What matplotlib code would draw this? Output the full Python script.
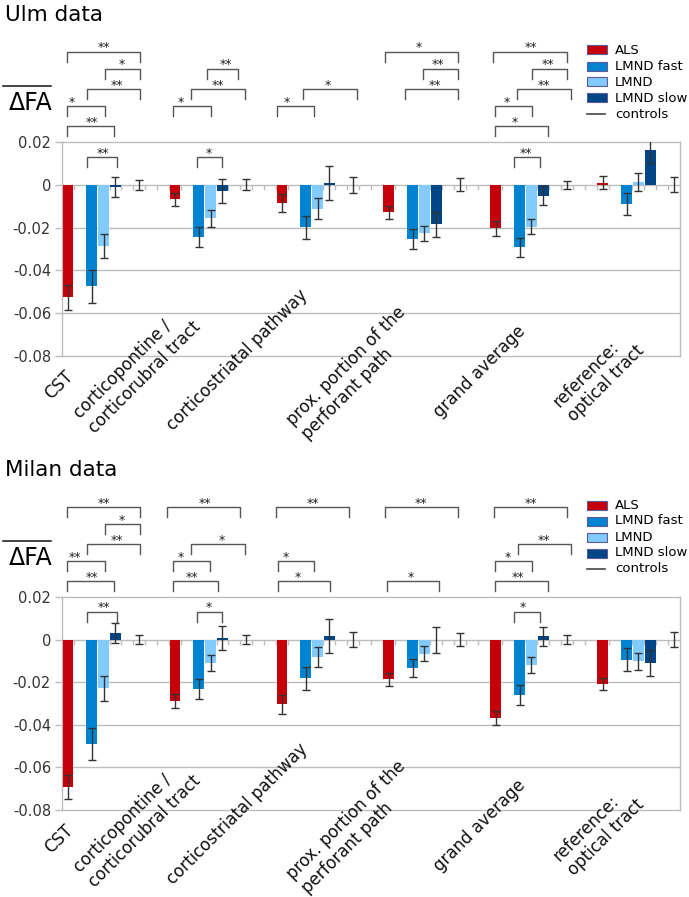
import numpy as np
import matplotlib.pyplot as plt
from matplotlib.lines import Line2D
from matplotlib.patches import Rectangle

plt.rcParams['font.family'] = 'DejaVu Sans'
plt.rcParams['axes.unicode_minus'] = False

# categories / series
regions = ['CST', 'corticopontine /\ncorticorubral tract', 'corticostriatal pathway',
           'prox. portion of the\nperforant path', 'grand average', 'reference:\noptical tract']
series = ['ALS', 'LMND fast', 'LMND', 'LMND slow']
colors = ['#c5000b', '#0084d1', '#83caff', '#004586']
yticks = [0.02, 0, -0.02, -0.04, -0.06, -0.08]
ytick_labels = ['0.02', '0', '-0.02', '-0.04', '-0.06', '-0.08']

# Ulm data
ulm_als = [-0.0526, -0.0067, -0.0086, -0.0128, -0.0203, 0.0010]
ulm_als_err = [0.0057, 0.0031, 0.0041, 0.0030, 0.0034, 0.0031]
ulm_fast = [-0.0475, -0.0245, -0.0198, -0.0253, -0.0292, -0.0089]
ulm_fast_err = [0.0076, 0.0047, 0.0054, 0.0047, 0.0045, 0.0053]
ulm_lmnd = [-0.0285, -0.0156, -0.0112, -0.0226, -0.0195, 0.0014]
ulm_lmnd_err = [0.0057, 0.0039, 0.0049, 0.0035, 0.0037, 0.0041]
ulm_slow = [-0.0010, -0.0027, 0.0008, -0.0184, -0.0051, 0.0161]
ulm_slow_err = [0.0045, 0.0056, 0.0081, 0.0059, 0.0045, 0.0059]
ulm_ctrl = [0, 0, 0, 0, 0, 0]
ulm_ctrl_err = [0.0022, 0.0025, 0.0036, 0.0030, 0.0020, 0.0035]

# Milan data
mil_als = [-0.0691, -0.0289, -0.0304, -0.0187, -0.0367, -0.0208]
mil_als_err = [0.0056, 0.0032, 0.0043, 0.0030, 0.0032, 0.0029]
mil_fast = [-0.0491, -0.0234, -0.0182, -0.0133, -0.0261, -0.0094]
mil_fast_err = [0.0076, 0.0047, 0.0055, 0.0044, 0.0047, 0.0054]
mil_lmnd = [-0.0229, -0.0109, -0.0081, -0.0066, -0.0120, -0.0101]
mil_lmnd_err = [0.0058, 0.0038, 0.0048, 0.0035, 0.0037, 0.0040]
mil_slow = [0.0031, 0.0008, 0.0019, -0.0002, 0.0016, -0.0112]
mil_slow_err = [0.0045, 0.0056, 0.0080, 0.0059, 0.0045, 0.0061]
mil_ctrl = [0, 0, 0, 0, 0, 0]
mil_ctrl_err = [0.0022, 0.0022, 0.0035, 0.0031, 0.0020, 0.0035]

# significance brackets: (x from, x to, level, stars, star x)
ulm_brackets = [
    (0.42, 6.55, 0, '**', 3.5), (3.61, 6.55, 1, '*', 5.05), (2.1, 6.55, 2, '**', 4.6),
    (0.42, 3.61, 3, '*', 0.84), (0.42, 4.4, 4, '**', 2.5), (2.1, 4.6, 5, '**', 3.45),
    (12.17, 14.83, 1, '**', 13.77), (10.89, 15.37, 2, '**', 13.1),
    (9.32, 12.5, 3, '*', 9.99), (11.33, 13.43, 5, '*', 12.34),
    (18.13, 21.24, 3, '*', 18.89), (20.32, 24.85, 2, '*', 22.33),
    (27.18, 33.33, 0, '*', 29.98), (30.39, 33.33, 1, '**', 31.65), (28.86, 33.33, 2, '**', 31.4),
    (36.27, 42.48, 0, '**', 39.44), (39.52, 42.48, 1, '**', 40.89), (38.28, 42.79, 2, '**', 40.55),
    (36.41, 39.57, 3, '*', 37.45), (36.41, 40.89, 4, '*', 38.09), (38.03, 40.19, 5, '**', 39.02),
]
mil_brackets = [
    (0.42, 6.55, 0, '**', 3.53), (3.61, 6.55, 1, '*', 5.04), (2.1, 6.55, 2, '**', 4.59),
    (0.42, 3.61, 3, '**', 1.09), (0.42, 4.37, 4, '**', 2.52), (2.1, 4.62, 5, '**', 3.53),
    (8.87, 15.0, 0, '**', 12.0), (10.89, 15.37, 2, '*', 13.46),
    (9.35, 12.49, 3, '*', 9.99), (9.35, 13.12, 4, '**', 10.97), (11.36, 13.46, 5, '*', 12.37),
    (18.0, 24.18, 0, '**', 21.1), (18.16, 21.24, 3, '*', 18.87), (18.16, 22.59, 4, '*', 19.84),
    (27.18, 33.33, 0, '**', 30.23), (27.31, 31.74, 4, '*', 29.36),
    (36.36, 42.48, 0, '**', 39.44), (38.37, 42.8, 2, '**', 40.55),
    (36.41, 39.57, 3, '*', 37.47), (36.41, 40.89, 4, '**', 38.37), (38.03, 40.19, 5, '*', 38.73),
]

W, H = 689, 897
fig = plt.figure(figsize=(W / 100, H / 100), dpi=100)

slot_offsets = [0.5, 2.5, 3.5, 4.5]
ctrl_offset = 6.5
levels = [0.0621, 0.0542, 0.0448, 0.0368, 0.0275, 0.0130]
drop = 0.0047
label_pos = [(-0.25, -0.0936), (6.3, -0.0865), (14.78, -0.0819),
             (24.52, -0.0880), (35.18, -0.0875), (45.17, -0.0894)]
grid_c = '#bdbdbd'


def panel(rect, vals, errs, ctrl, ctrl_err, brackets):
    ax = fig.add_axes(rect)
    groups = np.arange(len(regions)) * 9
    for i in range(4):
        x = groups + slot_offsets[i]
        ax.bar(x, vals[i], width=0.9, color=colors[i], zorder=3)
        ax.errorbar(x, vals[i], yerr=errs[i], fmt='none', ecolor='#333333',
                    elinewidth=1.0, capsize=2.6, capthick=1.0, zorder=4)
    ax.errorbar(groups + ctrl_offset, ctrl, yerr=ctrl_err, fmt='none', ecolor='#333333',
                elinewidth=1.0, capsize=2.6, capthick=1.0, zorder=4)
    ax.set_xlim(0, 52)
    ax.set_ylim(-0.08, 0.02)
    ax.set_xticks([])
    ax.set_yticks(yticks)
    ax.set_yticklabels(ytick_labels)
    ax.tick_params(axis='y', length=5, width=1, color=grid_c, pad=3,
                   labelsize=10.5, labelcolor='#333333')
    for y in yticks[1:-1]:
        ax.axhline(y, color=grid_c, lw=1.0, zorder=1)
    ax.vlines(np.arange(1, 52), -0.0024, 0, colors=grid_c, lw=1.0, zorder=1.5)
    for s in ax.spines.values():
        s.set_color(grid_c)
        s.set_linewidth(1.0)
    for (x1, x2, lev, lab, lx) in brackets:
        y = levels[lev]
        ax.plot([x1, x1, x2, x2], [y - drop, y, y, y - drop], color='#555555',
                lw=1.0, clip_on=False, zorder=5)
        ax.text(lx, y + 0.0002, lab, ha='center', va='baseline', fontsize=9,
                color='#222222')
    for name, (lx, ly) in zip(regions, label_pos):
        ax.text(lx, ly, name, rotation=45, rotation_mode='anchor', ha='center',
                va='center', multialignment='left', fontsize=12, color='#111111')
    return ax


def header(title, dy):
    fig.text(5 / W, 1 - (20.7 + dy) / H, title, fontsize=15.5, ha='left', va='baseline')
    fig.text(30.3 / W, 1 - (110 + dy) / H, 'ΔFA', fontsize=17, ha='center', va='baseline')
    fig.add_artist(Line2D([3.3 / W, 50.7 / W], [1 - (86 + dy) / H] * 2, color='#111111',
                          lw=1.1, transform=fig.transFigure))
    ys = [50, 66, 82, 98, 114]
    for i, name in enumerate(series):
        y = ys[i] + dy
        fig.add_artist(Rectangle((587 / W, 1 - (y + 4.5) / H), 20 / W, 9 / H,
                                 facecolor=colors[i], edgecolor='#5b5b99', lw=0.8,
                                 transform=fig.transFigure))
        fig.text(615 / W, 1 - y / H, name, fontsize=9.5, va='center', ha='left')
    y = ys[4] + dy
    fig.add_artist(Line2D([587 / W, 605 / W], [1 - y / H] * 2, color='#444444', lw=1.2,
                          transform=fig.transFigure))
    fig.text(615 / W, 1 - y / H, 'controls', fontsize=9.5, va='center', ha='left')


panel([62 / W, 1 - 356 / H, 618 / W, 214 / H],
      [ulm_als, ulm_fast, ulm_lmnd, ulm_slow],
      [ulm_als_err, ulm_fast_err, ulm_lmnd_err, ulm_slow_err],
      ulm_ctrl, ulm_ctrl_err, ulm_brackets)
header('Ulm data', 0)

panel([62 / W, 1 - 810 / H, 618 / W, 213 / H],
      [mil_als, mil_fast, mil_lmnd, mil_slow],
      [mil_als_err, mil_fast_err, mil_lmnd_err, mil_slow_err],
      mil_ctrl, mil_ctrl_err, mil_brackets)
header('Milan data', 455)

fig.savefig('out.png', dpi=100)
